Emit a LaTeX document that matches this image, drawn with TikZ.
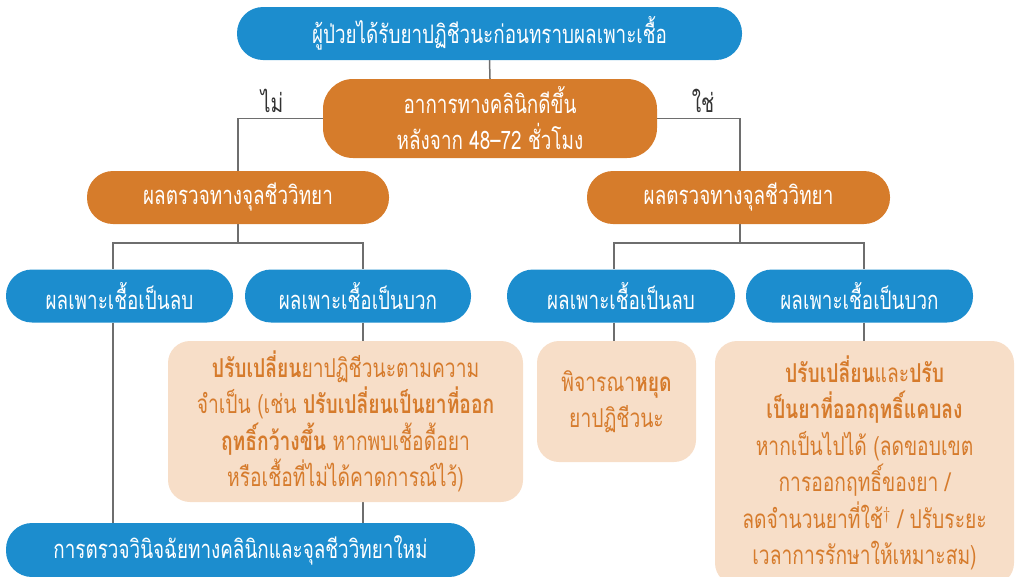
\documentclass[tikz,border=0pt]{standalone}
\usepackage{fontspec}
\newfontfamily\thai[Script=Thai,FakeStretch=0.74]{Loma}
\usetikzlibrary{backgrounds}
\definecolor{cblue}{RGB}{28,141,206}
\definecolor{corange}{RGB}{214,124,43}
\definecolor{cpeach}{RGB}{247,222,200}
\definecolor{ctext}{RGB}{214,123,44}
\definecolor{cline}{RGB}{110,110,110}
\definecolor{cdark}{RGB}{50,50,50}
\begin{document}
\begin{tikzpicture}[x=1pt,y=-1pt,
  pill/.style={rounded corners=26pt, minimum height=53pt, inner sep=0pt, font=\thai\fontsize{25.5}{36}\selectfont, text=white},
  bluebox/.style={pill, fill=cblue},
  orangebox/.style={pill, fill=corange},
  actbox/.style={rounded corners=22pt, fill=cpeach, text=ctext, align=center, inner sep=0pt, font=\thai\fontsize{26}{36.5}\selectfont},
  lbl/.style={font=\thai\fontsize{26}{30}\selectfont, text=cdark, inner sep=0pt},
  conn/.style={draw=cline, line width=1.5pt}]
\useasboundingbox (0,0) rectangle (1016,576);
\clip (0,0) rectangle (1016,576);
\node[bluebox, minimum width=505pt] (top) at (489.5,33.5) {ผู้ป่วยได้รับยาปฏิชีวนะก่อนทราบผลเพาะเชื้อ};
\node[orangebox, minimum width=334pt, minimum height=79pt, rounded corners=30pt, align=center] (q) at (490,118.5) {อาการทางคลินิกดีขึ้น\\หลังจาก 48–72 ชั่วโมง};
\node[lbl] (no) at (272,101) {ไม่};
\node[lbl] (yes) at (703,101) {ใช่};
\node[orangebox, minimum width=302pt] (lres) at (238,197.5) {ผลตรวจทางจุลชีววิทยา};
\node[orangebox, minimum width=303pt] (rres) at (738.5,197.5) {ผลตรวจทางจุลชีววิทยา};
\node[bluebox, minimum width=227pt] (lneg) at (119.5,296) {ผลเพาะเชื้อเป็นลบ};
\node[bluebox, minimum width=226pt] (lpos) at (358,296) {ผลเพาะเชื้อเป็นบวก};
\node[bluebox, minimum width=228pt] (rneg) at (621,296) {ผลเพาะเชื้อเป็นลบ};
\node[bluebox, minimum width=227pt] (rpos) at (859.5,296) {ผลเพาะเชื้อเป็นบวก};
\node[actbox, minimum width=355pt, minimum height=161pt] (a1) at (345.5,421.5) {\textbf{ปรับเปลี่ยน}ยาปฏิชีวนะตามความ\\จำเป็น (เช่น \textbf{ปรับเปลี่ยนเป็นยาที่ออก}\\\textbf{ฤทธิ์กว้างขึ้น} หากพบเชื้อดื้อยา\\หรือเชื้อที่ไม่ได้คาดการณ์ไว้)};
\node[actbox, minimum width=159pt, minimum height=121pt] (a2) at (616.5,401.5) {พิจารณา\textbf{หยุด}\\ยาปฏิชีวนะ};
\node[actbox, minimum width=299pt, minimum height=244pt] (a3) at (864.5,463) {\textbf{ปรับเปลี่ยน}และ\textbf{ปรับ}\\\textbf{เป็นยาที่ออกฤทธิ์แคบลง}\\หากเป็นไปได้ (ลดขอบเขต\\การออกฤทธิ์ของยา /\\ลดจำนวนยาที่ใช้$^{\dagger}$ / ปรับระยะ\\เวลาการรักษาให้เหมาะสม)};
\node[bluebox, minimum width=469pt, minimum height=54pt] (bot) at (240.5,550) {การตรวจวินิจฉัยทางคลินิกและจุลชีววิทยาใหม่};
\begin{scope}[on background layer]
\draw[conn] (top.south) -- (q.north);
\draw[conn] (q.west) -| (lres.north);
\draw[conn] (q.east) -| ([xshift=1.5pt]rres.north);
\draw[conn] (lres.south) -- ++(0,19) -| ([xshift=-6.5pt]lneg.north);
\draw[conn] (lres.south) -- ++(0,19) -| ([xshift=5pt]lpos.north);
\draw[conn] ([xshift=-6.5pt]lneg.south) -- ([xshift=-6.5pt]lneg.south |- bot.north);
\draw[conn] ([xshift=5pt]lpos.south) -- ([xshift=5pt]lpos.south |- bot.north);
\draw[conn] ([xshift=1.5pt]rres.south) -- ++(0,19) -| ([xshift=-7pt]rneg.north);
\draw[conn] ([xshift=1.5pt]rres.south) -- ++(0,19) -| ([xshift=4.5pt]rpos.north);
\draw[conn] ([xshift=-7pt]rneg.south) -- ([xshift=-7pt]rneg.south |- a2.north);
\draw[conn] ([xshift=4.5pt]rpos.south) -- ([xshift=4.5pt]rpos.south |- a3.north);
\end{scope}
\end{tikzpicture}
\end{document}
